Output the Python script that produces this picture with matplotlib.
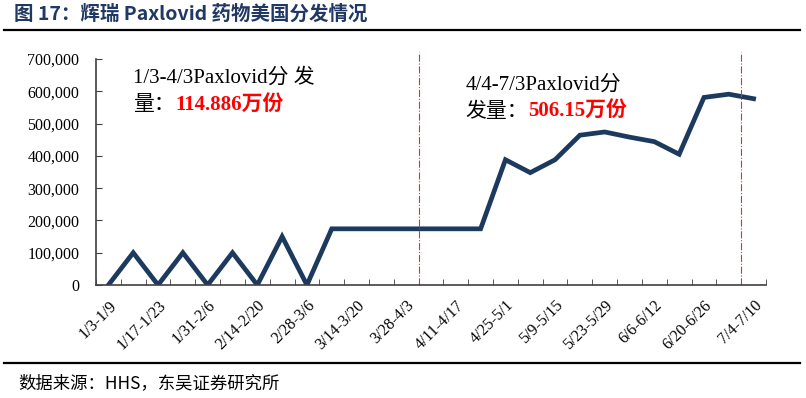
import matplotlib
matplotlib.use("Agg")
from matplotlib import pyplot as plt

weeks = ['1/3-1/9', '1/10-1/16', '1/17-1/23', '1/24-1/30', '1/31-2/6', '2/7-2/13',
         '2/14-2/20', '2/21-2/27', '2/28-3/6', '3/7-3/13', '3/14-3/20', '3/21-3/27',
         '3/28-4/3', '4/4-4/10', '4/11-4/17', '4/18-4/24', '4/25-5/1', '5/2-5/8',
         '5/9-5/15', '5/16-5/22', '5/23-5/29', '5/30-6/5', '6/6-6/12', '6/13-6/19',
         '6/20-6/26', '6/27-7/3', '7/4-7/10']
doses = [0, 100000, 0, 100000, 0, 100000, 0, 150000, 0, 174000, 174000, 174000,
         174000, 174000, 174000, 174000, 388000, 348000, 388000, 464000, 474000,
         458000, 444000, 405000, 581000, 591000, 577000]
yticks = [0, 100000, 200000, 300000, 400000, 500000, 600000, 700000]

serif = ['Liberation Serif', 'Noto Sans CJK SC']
cjk = ['Noto Sans CJK SC', 'DejaVu Sans']

fig = plt.figure(figsize=(8.06, 3.98), dpi=100)
ax = fig.add_axes([96/806, 1-285/398, 670/806, 226/398])

x = list(range(len(weeks)))
ax.plot(x, doses, color='#1c3a5e', linewidth=3.4, solid_joinstyle='miter')

ax.set_xlim(-0.5, len(weeks) - 0.5)
ax.set_ylim(0, 700000)

# 分期竖线
for xv in [12.5, 25.5]:
    ax.axvline(xv, ymin=0, ymax=1.03, color='#e03030', linestyle='-.', linewidth=0.8, clip_on=False)

ax.set_yticks(yticks)
ax.set_yticklabels([f'{v:,}' for v in yticks], fontfamily=serif, fontsize=11.5)
ax.tick_params(axis='y', direction='in', length=4, color='#404040', pad=12)

ax.set_xticks(x[::2])
ax.set_xticklabels(weeks[::2], rotation=45, ha='right', rotation_mode='anchor',
                   fontfamily=serif, fontsize=11.5)
ax.tick_params(axis='x', which='major', length=0, pad=9)
ax.set_xticks([i - 0.5 for i in range(len(weeks) + 1)], minor=True)
ax.tick_params(axis='x', which='minor', direction='in', length=4.5, color='#404040')

for s in ['top', 'right']:
    ax.spines[s].set_visible(False)
for s in ['left', 'bottom']:
    ax.spines[s].set_color('#404040')
    ax.spines[s].set_linewidth(1.2)

# 注释
ax.text(1.0, 640000, '1/3-4/3Paxlovid分 发', fontfamily=serif, fontsize=15, va='center')
ax.text(1.0, 555000, '量：', fontfamily=serif, fontsize=15, va='center')
ax.text(2.7, 555000, '114.886万份', fontfamily=serif, fontsize=15, va='center',
        color='red', fontweight='bold')
ax.text(14.4, 620000, '4/4-7/3Paxlovid分', fontfamily=serif, fontsize=15, va='center')
ax.text(14.4, 535000, '发量：', fontfamily=serif, fontsize=15, va='center')
ax.text(16.9, 535000, '506.15万份', fontfamily=serif, fontsize=15, va='center',
        color='red', fontweight='bold')

fig.text(14/806, 1-14/398, '图 17：辉瑞 Paxlovid 药物美国分发情况', fontfamily=cjk,
         fontsize=14, fontweight='bold', color='#1f3864', va='center')
fig.add_artist(plt.Line2D([4/806, 800/806], [1-30/398, 1-30/398], color='black', linewidth=1.6))
fig.add_artist(plt.Line2D([4/806, 800/806], [1-363/398, 1-363/398], color='black', linewidth=1.6))
fig.text(18/806, 1-383/398, '数据来源：HHS，东吴证券研究所', fontfamily=cjk, fontsize=12.5,
         va='center')

fig.savefig('out.png', dpi=100, facecolor='white')
